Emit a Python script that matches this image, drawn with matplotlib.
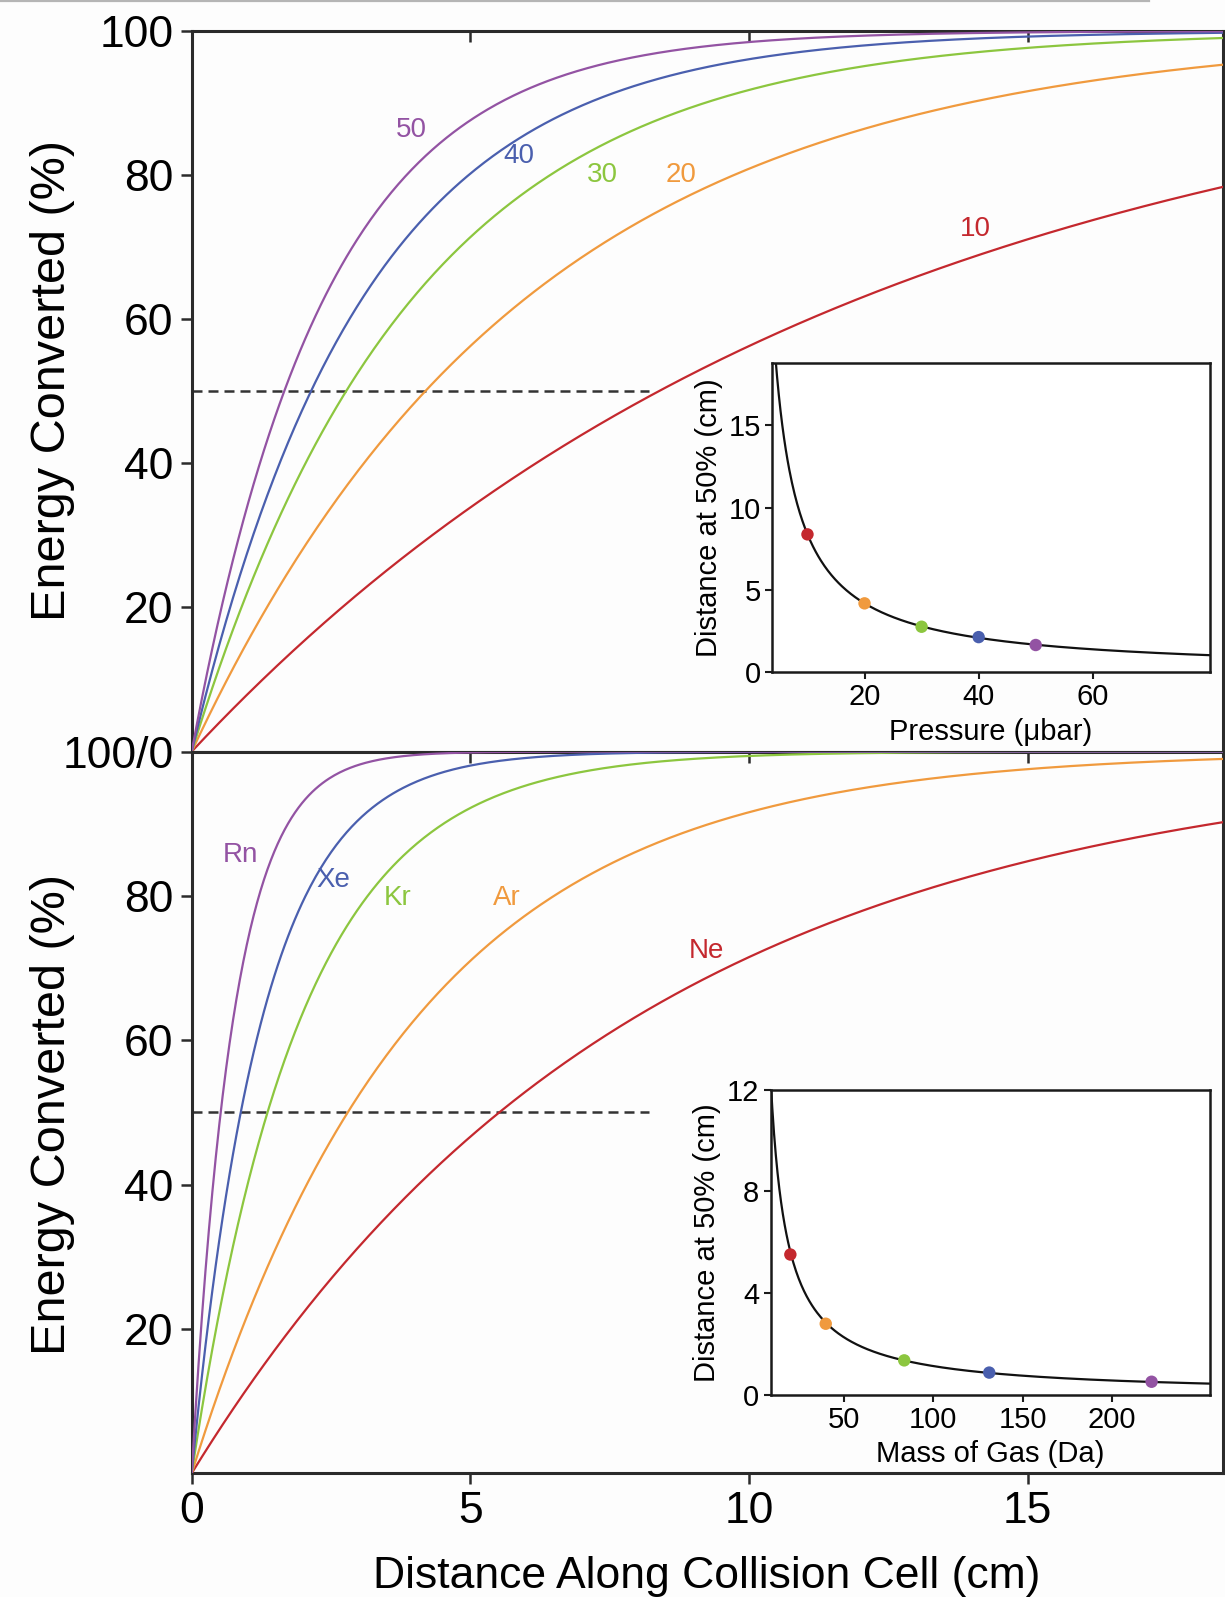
import numpy as np
import matplotlib
matplotlib.use("Agg")
import matplotlib.pyplot as plt
from matplotlib.lines import Line2D

plt.rcParams['font.family'] = ['Liberation Sans', 'DejaVu Sans']

# ---- data ----------------------------------------------------------------
# Upper panel: collision-gas pressure series (µbar) and distance at 50 % (cm)
pressures = [10, 20, 30, 40, 50]
pressure_labels = ["10", "20", "30", "40", "50"]
pressure_d50 = [8.38, 4.19, 2.77, 2.14, 1.66]

# Lower panel: collision gases, their masses (Da) and distance at 50 % (cm)
gases = ["Ne", "Ar", "Kr", "Xe", "Rn"]
gas_mass = [20.18, 39.95, 83.80, 131.29, 222.0]
gas_d50 = [5.52, 2.80, 1.36, 0.88, 0.52]

series_colors = ["#c4282e", "#f09a3e", "#8cc63f", "#4a5fae", "#9353a3"]

# label anchor points (distance cm, % converted)
pressure_label_xy = [(14.07, 72.5), (8.78, 80.0), (7.37, 80.0), (5.87, 82.7), (3.94, 86.2)]
gas_label_xy = [(9.24, 72.3), (5.66, 79.7), (3.70, 79.7), (2.55, 82.2), (0.88, 85.6)]

x_max = 18.5
half_level = 50
half_line_end = 8.2

main_yticks = [20, 40, 60, 80, 100]
main_xticks = [0, 5, 10, 15]

# ---- figure ----------------------------------------------------------------
fig = plt.figure(figsize=(12.25, 15.97), dpi=100)
fig.patch.set_facecolor("#fdfdfd")
fig.add_artist(Line2D([0.0, 0.938], [0.9992, 0.9992], color="#b5b5b5", lw=1.6,
                      transform=fig.transFigure))

ax_top = fig.add_axes([0.1565, 0.5294, 0.8415, 0.4512])
ax_bot = fig.add_axes([0.1565, 0.0775, 0.8415, 0.4519])

spine_col = "#2b2b2b"
x = np.linspace(0, x_max, 600)


def saturation(xv, d50):
    # fraction converted for first-order conversion with half-distance d50
    return 100.0 * (1.0 - 0.5 ** (xv / d50))


def style_main(ax):
    ax.set_facecolor("#fdfdfd")
    ax.set_xlim(0, x_max)
    ax.set_ylim(0, 100)
    for s in ax.spines.values():
        s.set_color(spine_col)
        s.set_linewidth(2.2)
    ax.tick_params(axis="y", direction="out", length=8, width=1.8, color=spine_col,
                   labelsize=32, pad=5)


# upper panel
for d, lab, c, (lx, ly) in zip(pressure_d50, pressure_labels, series_colors, pressure_label_xy):
    ax_top.plot(x, saturation(x, d), color=c, lw=1.6, zorder=3)
    ax_top.text(lx, ly, lab, color=c, fontsize=20, ha="center", va="center", zorder=4)
ax_top.plot([0, half_line_end], [half_level, half_level], color="#333333", lw=1.8,
            ls=(0, (4, 2.4)), zorder=2)
style_main(ax_top)
ax_top.set_yticks([0] + main_yticks)
ax_top.set_yticklabels(["100/0"] + [str(v) for v in main_yticks])
ax_top.set_xticks(main_xticks)
ax_top.tick_params(axis="x", which="both", bottom=False, labelbottom=False,
                   top=True, direction="in", length=8, width=1.8, color=spine_col)

# lower panel
for d, lab, c, (lx, ly) in zip(gas_d50, gases, series_colors, gas_label_xy):
    ax_bot.plot(x, saturation(x, d), color=c, lw=1.6, zorder=3)
    ax_bot.text(lx, ly, lab, color=c, fontsize=20, ha="center", va="center", zorder=4)
ax_bot.plot([0, half_line_end], [half_level, half_level], color="#333333", lw=1.8,
            ls=(0, (4, 2.4)), zorder=2)
style_main(ax_bot)
ax_bot.set_yticks(main_yticks[:-1])
ax_bot.set_xticks(main_xticks)
ax_bot.tick_params(axis="x", bottom=True, top=False, direction="out", labelsize=32,
                   width=1.8, color=spine_col, length=8, pad=5)
ax_bot.set_xlabel("Distance Along Collision Cell (cm)", fontsize=32, labelpad=17)

# inward ticks on the shared middle line
mid = ax_bot.secondary_xaxis("top")
mid.set_xticks(main_xticks)
mid.tick_params(direction="in", length=8, width=1.8, color=spine_col, labeltop=False)
mid.spines["top"].set_visible(False)

fig.text(0.043, 0.762, "Energy Converted (%)", rotation=90, fontsize=35,
         ha="center", va="center")
fig.text(0.043, 0.302, "Energy Converted (%)", rotation=90, fontsize=35,
         ha="center", va="center")


# ---- insets -----------------------------------------------------------------
def style_inset(ax):
    ax.set_facecolor("white")
    for s in ax.spines.values():
        s.set_color("#1a1a1a")
        s.set_linewidth(1.8)
    ax.tick_params(direction="out", length=5, width=1.5, labelsize=21, pad=3,
                   color="#1a1a1a")
    ax.set_ylabel("Distance at 50% (cm)", fontsize=21, labelpad=4)


# pressure inset
ins1 = fig.add_axes([0.630, 0.579, 0.358, 0.1934])
k_p = np.mean(np.array(pressure_d50) * np.array(pressures))
p_lo, p_hi = 3.74, 80.6
pp = np.linspace(p_lo, p_hi, 500)
ins1.plot(pp, k_p / pp, color="#111111", lw=1.6, zorder=2)
ins1.scatter(pressures, pressure_d50, s=80, c=series_colors, zorder=3, edgecolors="none")
ins1.set_xlim(p_lo, p_hi)
ins1.set_ylim(0, 18.76)
ins1.set_xticks([20, 40, 60])
ins1.set_yticks([0, 5, 10, 15])
style_inset(ins1)
ins1.set_xlabel("Pressure (\u03bcbar)", fontsize=21, labelpad=5)

# mass inset
ins2 = fig.add_axes([0.629, 0.1265, 0.359, 0.1912])
k_m = np.mean(np.array(gas_d50) * np.array(gas_mass))
m_lo, m_hi = 9.1, 254.8
mm = np.linspace(m_lo, m_hi, 500)
ins2.plot(mm, k_m / mm, color="#111111", lw=1.6, zorder=2)
ins2.scatter(gas_mass, gas_d50, s=80, c=series_colors, zorder=3, edgecolors="none")
ins2.set_xlim(m_lo, m_hi)
ins2.set_ylim(0, 12)
ins2.set_xticks([50, 100, 150, 200])
ins2.set_yticks([0, 4, 8, 12])
style_inset(ins2)
ins2.set_xlabel("Mass of Gas (Da)", fontsize=21, labelpad=4)

fig.savefig("out.png", dpi=100, facecolor=fig.get_facecolor())
